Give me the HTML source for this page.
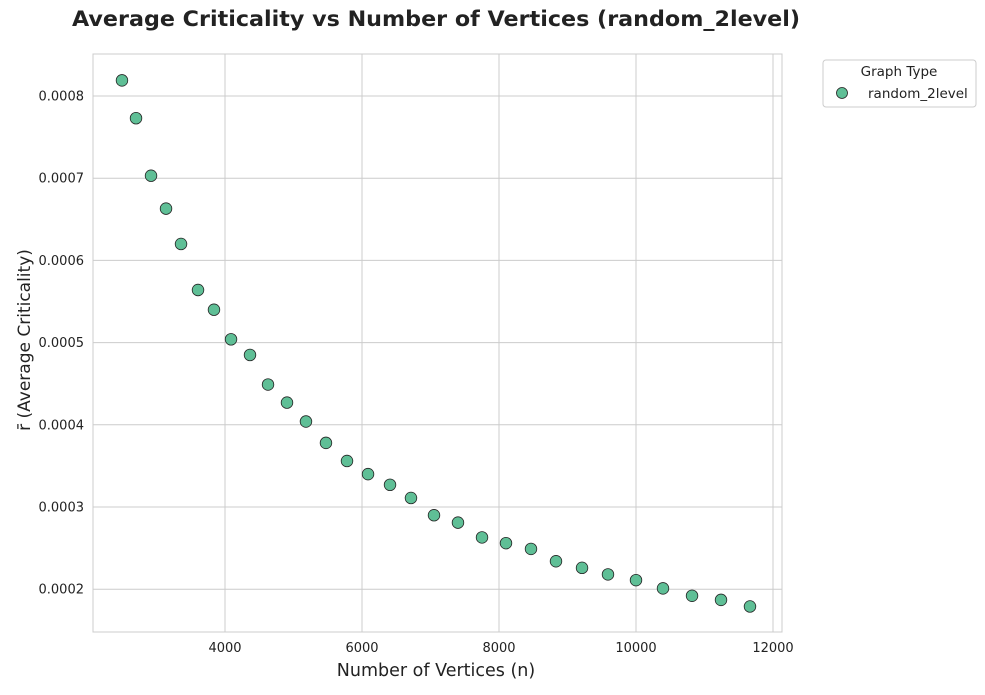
<!DOCTYPE html>
<html><head><meta charset="utf-8"><style>
body{margin:0;background:#fff;font-family:"Liberation Sans","DejaVu Sans",sans-serif;}
svg text{font-family:"DejaVu Sans","Liberation Sans",sans-serif;}
</style></head><body>
<svg id="chart" width="985" height="690">
<text x="72" y="26" font-size="21" font-weight="bold" fill="#222" textLength="728" lengthAdjust="spacingAndGlyphs">Average Criticality vs Number of Vertices (random_2level)</text>
<g id="grid"></g>
<rect x="93" y="54" width="689" height="578" fill="none" stroke="#ccc" stroke-width="1"/>
<g id="ticks"></g>
<g id="points"></g>
<text x="436" y="676" text-anchor="middle" font-size="17.5" fill="#222">Number of Vertices (n)</text>
<text transform="translate(30,340) rotate(-90)" text-anchor="middle" font-size="17" fill="#222">r̄ (Average Criticality)</text>
<g>
<rect x="823" y="60" width="153" height="47" rx="3" fill="#fff" stroke="#ccc"/>
<text x="899" y="76" text-anchor="middle" font-size="13.5" fill="#222">Graph Type</text>
<circle cx="842" cy="93" r="5.5" fill="#5fbf96" stroke="#222" stroke-width="0.8"/>
<text x="868" y="98" font-size="13.5" fill="#222">random_2level</text>
</g>
</svg>
<script>
const xValues=[2496,2701,2920,3139,3358,3606,3839,4088,4365,4628,4905,5182,5474,5781,6088,6409,6715,7051,7401,7752,8102,8467,8832,9212,9591,10000,10394,10818,11241,11664];
const yValues=[0.000819,0.000773,0.000703,0.000663,0.000620,0.000564,0.000540,0.000504,0.000485,0.000449,0.000427,0.000404,0.000378,0.000356,0.000340,0.000327,0.000311,0.000290,0.000281,0.000263,0.000256,0.000249,0.000234,0.000226,0.000218,0.000211,0.000201,0.000192,0.000187,0.000179];
const xTicks=[4000,6000,8000,10000,12000];
const yTicks=[0.0002,0.0003,0.0004,0.0005,0.0006,0.0007,0.0008];
const ns="http://www.w3.org/2000/svg";
function sx(v){return 225+(v-4000)*0.0685;}
function sy(v){return 96+(0.0008-v)*822000;}
const grid=document.getElementById('grid'),ticks=document.getElementById('ticks'),pts=document.getElementById('points');
function mk(t,a,p){const e=document.createElementNS(ns,t);for(const k in a)e.setAttribute(k,a[k]);p.appendChild(e);return e;}
xTicks.forEach(v=>{
 const l=mk('line',{x1:sx(v),x2:sx(v),y1:54,y2:632,stroke:'#ccc'},grid);
 
 
 const t=mk('text',{x:sx(v),y:652,'text-anchor':'middle','font-size':13,fill:'#222'},ticks);
 t.textContent=v;
 
 
});
yTicks.forEach(v=>{
 const l=mk('line',{x1:93,x2:782,y1:sy(v),y2:sy(v),stroke:'#ccc'},grid);
 
 
 const t=mk('text',{x:84,y:sy(v)+4.5,'text-anchor':'end','font-size':13,fill:'#222'},ticks);
 t.textContent=v.toFixed(4);
 
 
});
xValues.forEach((x,i)=>{
 const c=mk('circle',{cx:sx(x),cy:sy(yValues[i]),r:5.8,fill:'#5fbf96',stroke:'#222','stroke-width':0.8},pts);
 
 
});
</script>
</body></html>
